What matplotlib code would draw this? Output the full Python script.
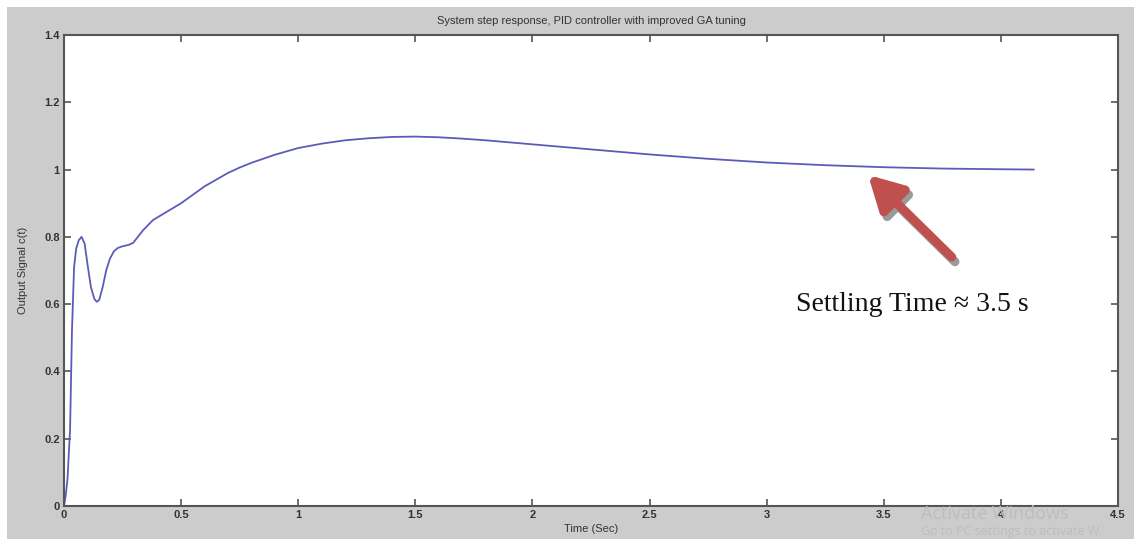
import matplotlib
matplotlib.use("Agg")
import matplotlib.pyplot as plt
from matplotlib.patches import Rectangle

# ---- data ----
time_s = [0, 0.007, 0.015, 0.026, 0.034, 0.043, 0.052, 0.063, 0.075, 0.088,
          0.10, 0.115, 0.13, 0.14, 0.15, 0.165, 0.18, 0.196, 0.213, 0.23,
          0.25, 0.275, 0.295, 0.338, 0.38, 0.44, 0.5, 0.55, 0.6, 0.65,
          0.7, 0.75, 0.8, 0.9, 1.0, 1.1, 1.2, 1.3, 1.4, 1.5,
          1.6, 1.7, 1.8, 1.9, 2.0, 2.15, 2.3, 2.5, 2.75, 3.0,
          3.25, 3.5, 3.75, 4.0, 4.14]
output = [0, 0.03, 0.08, 0.23, 0.52, 0.71, 0.765, 0.79, 0.80, 0.78,
          0.72, 0.65, 0.615, 0.607, 0.612, 0.65, 0.70, 0.735, 0.757, 0.767,
          0.772, 0.776, 0.782, 0.82, 0.85, 0.875, 0.90, 0.925, 0.95, 0.97,
          0.99, 1.006, 1.02, 1.044, 1.064, 1.077, 1.087, 1.093, 1.097, 1.098,
          1.096, 1.092, 1.087, 1.081, 1.075, 1.066, 1.057, 1.045, 1.032, 1.021,
          1.013, 1.007, 1.003, 1.001, 1.000]
x_ticks = [0, 0.5, 1, 1.5, 2, 2.5, 3, 3.5, 4, 4.5]
x_tick_labels = ["0", "0.5", "1", "1.5", "2", "2.5", "3", "3.5", "4", "4.5"]
y_ticks = [0, 0.2, 0.4, 0.6, 0.8, 1.0, 1.2, 1.4]
y_tick_labels = ["0", "0.2", "0.4", "0.6", "0.8", "1", "1.2", "1.4"]
settling_time = 3.5
title = "System step response, PID controller with improved GA tuning"

W, H = 1134, 539
fig = plt.figure(figsize=(W / 100, H / 100), dpi=100, facecolor="white")
bg = Rectangle((7 / W, 0), 1 - 7 / W, (H - 7) / H,
               transform=fig.transFigure, facecolor="#cccccc",
               edgecolor="none", zorder=-10)
fig.add_artist(bg)

ax = fig.add_axes([64 / W, (H - 506) / H, (1118 - 64) / W, (506 - 35) / H])
ax.set_zorder(1)
ax.set_facecolor("white")
ax.plot(time_s, output, color="#5c5cb8", lw=1.3, solid_joinstyle="round")
ax.set_xlim(0, 4.5)
ax.set_ylim(0, 1.4)
ax.set_xticks(x_ticks)
ax.set_xticklabels(x_tick_labels)
ax.set_yticks(y_ticks)
ax.set_yticklabels(y_tick_labels)
for s in ax.spines.values():
    s.set_color("#555555")
    s.set_linewidth(1.5)
ax.tick_params(direction="in", length=5, width=1.2, color="#555555",
               top=True, right=True, labelsize=8, labelcolor="#333333", pad=3)
for lbl in ax.get_xticklabels() + ax.get_yticklabels():
    lbl.set_fontweight("bold")
    lbl.set_family("Liberation Sans")

ax.set_title(title, fontsize=8, family="Liberation Sans", color="#333333", pad=8)
ax.set_xlabel("Time (Sec)", fontsize=8, family="Liberation Sans", color="#333333", labelpad=3)
ax.set_ylabel("Output Signal c(t)", fontsize=8, family="Liberation Sans", color="#333333", labelpad=12)

# annotation arrow (with shadow)
head = (3.433, 0.984)
tail = (3.79, 0.740)
off = (0.014, -0.014)
style = "-|>,head_length=2.0,head_width=1.1"
ax.annotate("", xy=(head[0] + off[0], head[1] + off[1]),
            xytext=(tail[0] + off[0], tail[1] + off[1]),
            arrowprops=dict(arrowstyle=style, color="#9a9a9a", lw=6.5,
                            shrinkA=0, shrinkB=0))
ax.annotate("", xy=head, xytext=tail,
            arrowprops=dict(arrowstyle=style, color="#c0504d", lw=6.5,
                            shrinkA=0, shrinkB=0))
ax.text(3.126, 0.60, "Settling Time \u2248 %.1f s" % settling_time,
        fontsize=20, family="Liberation Serif", color="#111111",
        ha="left", va="center")

# watermark
fig.text(921 / W, (H - 514) / H, "Activate Windows", fontsize=13,
         family="Open Sans", color="#bdbdbd", va="center", zorder=5)
fig.text(921 / W, (H - 532) / H, "Go to PC settings to activate W", fontsize=9,
         family="Open Sans", color="#bdbdbd", va="center", zorder=5)

fig.savefig("out.png", dpi=100, facecolor=fig.get_facecolor())
